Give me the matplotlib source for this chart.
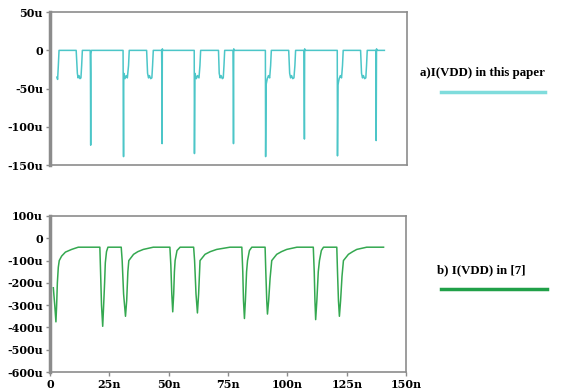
import matplotlib
matplotlib.use('Agg')
import matplotlib.pyplot as plt

# top trace: I(VDD) in this paper  (time in ns, current in uA)
t_a = [2.9, 3.2, 3.5, 3.8,
       11.0, 11.5, 11.8, 12.2, 12.6, 13.0, 13.3, 13.6,
       16.9, 17.0, 17.1, 17.2, 17.4,
       30.7, 30.9, 31.0, 31.5, 32.0, 32.5, 33.0, 33.3,
       40.6, 41.0, 41.4, 41.8, 42.3, 42.8, 43.1, 43.4,
       46.9, 47.0, 47.1, 47.2, 47.4,
       60.6, 60.7, 60.9, 61.5, 62.0, 62.6, 63.0, 63.3,
       70.8, 71.1, 71.5, 71.9, 72.4, 72.8, 73.1, 73.4,
       76.9, 77.0, 77.1, 77.2, 77.4,
       90.5, 90.6, 90.8, 91.3, 91.8, 92.3, 92.7, 93.0,
       100.3, 100.7, 101.1, 101.5, 102.0, 102.5, 102.9, 103.2,
       106.7, 106.8, 106.9, 107.0, 107.2,
       120.7, 120.8, 121.0, 121.5, 122.0, 122.5, 122.9, 123.2,
       130.5, 130.9, 131.3, 131.7, 132.2, 132.7, 133.0, 133.3,
       136.9, 137.0, 137.05, 137.2, 137.4,
       140.5]
i_a = [-35, -38, -20, 0,
       0, -30, -36, -33, -37, -36, -20, 0,
       0, -30, -124, -5, 0,
       0, -139, -30, -37, -33, -36, -20, 0,
       0, -30, -36, -33, -37, -36, -20, 0,
       0, -30, -122, 2, 0,
       0, -135, -30, -37, -33, -36, -20, 0,
       0, -30, -36, -33, -37, -36, -20, 0,
       0, -36, -122, 2, 0,
       0, -139, -45, -37, -33, -36, -20, 0,
       0, -30, -36, -33, -37, -36, -20, 0,
       0, -55, -116, 2, 0,
       0, -138, -45, -37, -33, -36, -20, 0,
       0, -30, -36, -33, -37, -36, -20, 0,
       0, -75, -118, 2, 0,
       0]

# bottom trace: I(VDD) in [7]
t_b = [1.4, 2.0, 2.5, 2.8, 3.1, 3.5, 3.9, 4.9, 6.5, 9.1, 11.9,
       21.0, 21.3, 21.7, 22.2, 22.6, 23.0, 23.3, 23.8, 24.4,
       30.0, 30.4, 31.0, 31.8, 32.3, 32.8, 33.2, 35.2, 37.0, 39.3, 43.5,
       50.5, 50.9, 51.3, 51.7, 52.1, 52.4, 52.7, 53.5, 54.8,
       60.5, 60.9, 61.5, 62.1, 62.6, 63.2, 65.3, 67.5, 70.2, 75.8,
       80.8, 81.2, 81.5, 81.9, 82.3, 82.8, 83.2, 84.0, 85.0,
       90.6, 90.9, 91.3, 91.6, 92.1, 92.7, 93.4, 95.5, 97.5, 99.7, 104.0,
       110.9, 111.3, 111.6, 111.9, 112.4, 113.0, 113.5, 114.3, 115.2,
       120.8, 121.1, 121.5, 121.9, 122.4, 123.0, 123.6, 125.7, 127.5, 129.2, 133.4,
       140.5]
i_b = [-222, -300, -375, -300, -200, -130, -100, -80, -62, -50, -40,
       -40, -150, -300, -395, -300, -200, -110, -60, -40,
       -40, -100, -250, -350, -280, -150, -100, -72, -60, -50, -40,
       -40, -120, -250, -330, -250, -150, -100, -55, -40,
       -40, -100, -250, -335, -250, -100, -72, -60, -50, -40,
       -40, -150, -280, -360, -280, -150, -100, -55, -40,
       -40, -150, -280, -340, -280, -180, -100, -72, -60, -50, -40,
       -40, -150, -280, -365, -280, -150, -100, -55, -40,
       -40, -150, -280, -350, -280, -170, -100, -72, -60, -50, -40,
       -40]

yt_a = [50, 0, -50, -100, -150]
yl_a = ['50u', '0', '-50u', '-100u', '-150u']
yt_b = [100, 0, -100, -200, -300, -400, -500, -600]
yl_b = ['100u', '0', '-100u', '-200u', '-300u', '-400u', '-500u', '-600u']
xt = [0, 25, 50, 75, 100, 125, 150]
xl = ['0', '25n', '50n', '75n', '100n', '125n', '150n']

cyan = '#4cc6c8'
green = '#34a850'
gray = '#8c8c8c'
font = dict(family='DejaVu Serif', weight='bold', size=8)

fig = plt.figure(figsize=(5.8, 3.92), dpi=100)
ax1 = fig.add_axes([0.0862, 0.579, 0.6155, 0.390])
ax2 = fig.add_axes([0.0862, 0.051, 0.6140, 0.398])

def style(ax):
    for s in ax.spines.values():
        s.set_color(gray)
        s.set_linewidth(1.2)
    ax.spines['left'].set_linewidth(2.5)
    ax.tick_params(colors=gray, length=3, width=1, pad=2)
    for lab in ax.get_xticklabels() + ax.get_yticklabels():
        lab.set_color('black')
        lab.set_fontproperties(font)

ax1.plot(t_a, i_a, color=cyan, lw=1.1)
ax1.set_xlim(0, 150)
ax1.set_ylim(-150, 50)
ax1.set_yticks(yt_a, yl_a)
ax1.set_xticks([])
style(ax1)

ax2.plot(t_b, i_b, color=green, lw=1.1)
ax2.set_xlim(0, 150)
ax2.set_ylim(-600, 100)
ax2.set_yticks(yt_b, yl_b)
ax2.set_xticks(xt, xl)
style(ax2)

fig.text(0.724, 0.815, 'a)I(VDD) in this paper', fontfamily='Liberation Serif',
         fontweight='bold', fontsize=9.3, va='center')
fig.add_artist(plt.Line2D([0.76, 0.94], [0.765, 0.765], color='#7fdcdc', lw=2.5))
fig.text(0.753, 0.31, 'b) I(VDD) in [7]', fontfamily='Liberation Serif',
         fontweight='bold', fontsize=9.3, va='center')
fig.add_artist(plt.Line2D([0.76, 0.943], [0.263, 0.263], color='#20a048', lw=2.5))

plt.savefig('out.png', dpi=100)
